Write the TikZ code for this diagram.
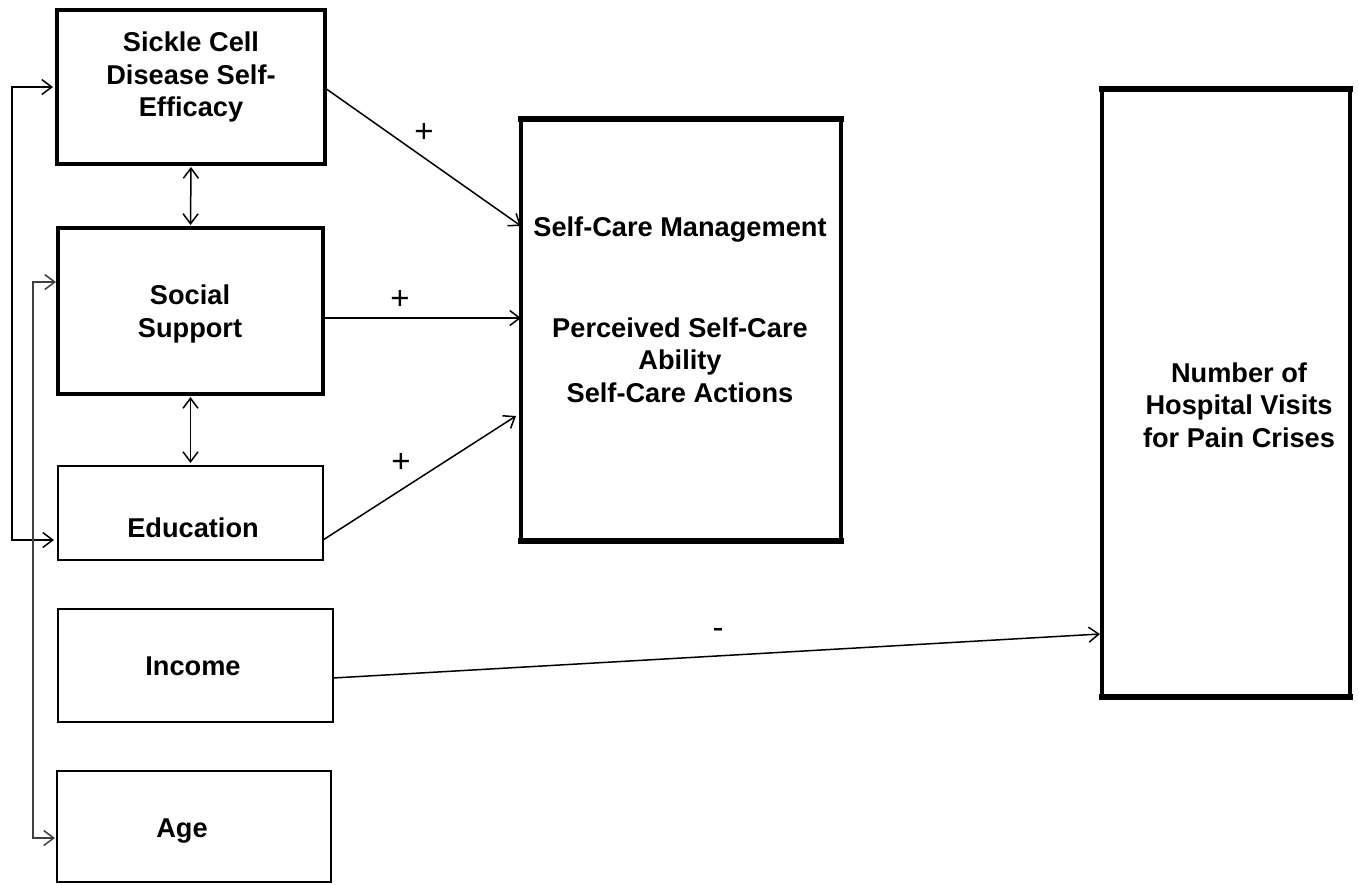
\documentclass[tikz,border=0pt]{standalone}
\usepackage{fontspec}
\setmainfont{Liberation Sans}
\usetikzlibrary{arrows.meta}
\tikzset{
  box/.style={draw=black, line width=3.2pt, inner sep=0pt, outer sep=0pt, fill=none},
  txt/.style={align=center, font=\fontsize{27.2}{32.5}\selectfont\bfseries, inner sep=0pt},
  sign/.style={font=\fontsize{33}{36}\selectfont, inner sep=0pt},
  conn/.style={line width=1.5pt, -{Straight Barb[length=10pt,width=15pt,line width=1.5pt]}},
  dconn/.style={line width=1.5pt, {Straight Barb[length=10pt,width=15pt,line width=1.5pt]}-{Straight Barb[length=10pt,width=15pt,line width=1.5pt]}},
  thick edge/.style={line width=6pt, line cap=rect}
}
\begin{document}
\begin{tikzpicture}[x=1pt,y=-1pt]
\useasboundingbox (0,0) rectangle (1359,884);
% boxes
\node[box, minimum width=268pt, minimum height=154pt] (sce) at (191,87) {};
\node[box, minimum width=265pt, minimum height=166pt] (ss) at (190.5,311) {};
\node[box, line width=2.6pt, minimum width=265pt, minimum height=94pt] (edu) at (190.5,513) {};
\node[box, line width=2.6pt, minimum width=275pt, minimum height=113pt] (inc) at (195.5,665.5) {};
\node[box, line width=2.6pt, minimum width=274pt, minimum height=111pt] (age) at (194,826.5) {};
\node[box, line width=3.4pt, minimum width=320pt, minimum height=422pt] (scm) at (681,330) {};
\node[box, line width=3.4pt, minimum width=248pt, minimum height=608pt] (hv) at (1226,393) {};
% thicker top/bottom edges
\draw[thick edge] (scm.north west) -- (scm.north east);
\draw[thick edge] (scm.south west) -- (scm.south east);
\draw[thick edge] (hv.north west) -- (hv.north east);
\draw[thick edge] (hv.south west) -- (hv.south east);
% texts
\node[txt] (tsce) at (191,77) {Sickle Cell\\Disease Self-\\Efficacy};
\node[txt] (tss) at (190,314) {Social\\Support};
\node[txt] (tedu) at (193,528) {Education};
\node[txt] (tinc) at (193,666) {Income};
\node[txt] (tage) at (182,831) {Age};
\node[txt] (tscm1) at (680,230) {Self-Care Management};
\node[txt] (tscm2) at (680,360) {Perceived Self-Care\\Ability\\Self-Care Actions};
\node[txt] (thv) at (1239,405) {Number of\\Hospital Visits\\for Pain Crises};
% connectors
\draw[conn] ([yshift=-1pt]sce.east) -- ([yshift=104pt]scm.west);
\draw[conn] ([yshift=-7pt]ss.east) -- ([yshift=12pt]scm.west);
\draw[conn] ([yshift=-27pt]edu.east) -- ([xshift=-5pt,yshift=-86pt]scm.west);
\draw[conn] ([yshift=-12.5pt]inc.east) -- ([xshift=-2pt,yshift=-241pt]hv.west);
\draw[dconn] ([yshift=-3pt]sce.south) -- ([yshift=3pt]ss.north);
\draw[dconn] ([yshift=-3pt]ss.south) -- ([yshift=3pt]edu.north);
% left feedback lines
\coordinate (l1t) at (12,87);
\coordinate (l1b) at (12,540);
\draw[dconn] ([xshift=-4pt]sce.west) -- (l1t) -- (l1b) -- ([xshift=-4pt,yshift=-27pt]edu.west);
\coordinate (l2t) at (33,282);
\coordinate (l2b) at (33,838);
\draw[dconn, draw=black!75, line width=1.1pt] ([xshift=-2pt,yshift=29pt]ss.west) -- (l2t) -- (l2b) -- ([xshift=-2pt,yshift=-11.5pt]age.west);
% signs
\node[sign] (p1) at (424,133) {+};
\node[sign] (p2) at (400,300) {+};
\node[sign] (p3) at (401,463) {+};
\node[sign] (m1) at (718,633) {-};
\end{tikzpicture}
\end{document}
